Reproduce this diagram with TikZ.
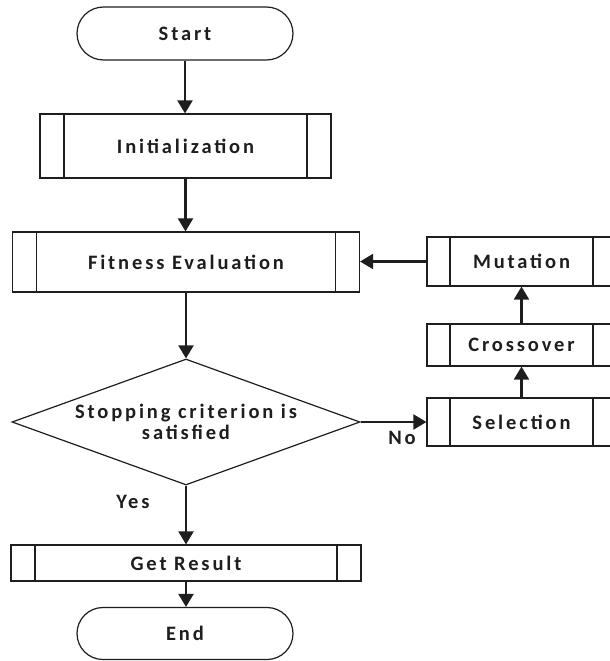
\documentclass[tikz,border=0pt]{standalone}
\usepackage{fontspec}
\setmainfont{Carlito}[LetterSpace=14]
\usetikzlibrary{shapes.geometric,shapes.misc,arrows.meta}
\definecolor{ink}{RGB}{30,30,30}
\begin{document}
\begin{tikzpicture}[x=1pt,y=-1pt,
  every node/.style={font=\fontsize{20.5}{21}\selectfont\bfseries, text=ink},
  term/.style={draw=ink, line width=1.2pt, rounded rectangle, minimum width=216pt, minimum height=53pt, inner sep=0pt},
  proc/.style={draw=ink, line width=1.2pt, rectangle, inner sep=0pt,
    path picture={\draw[ink, line width=1.5pt]
      ([xshift=#1]path picture bounding box.north west) -- ([xshift=#1]path picture bounding box.south west)
      ([xshift=-#1]path picture bounding box.north east) -- ([xshift=-#1]path picture bounding box.south east);}},
  dec/.style={draw=ink, line width=1.2pt, diamond, shape aspect=2.76, minimum width=348pt, minimum height=126pt, inner sep=0pt, align=center},
  arr/.style={draw=ink, line width=2.2pt, -{Triangle[width=15pt,length=13pt]}},
  lbl/.style={inner sep=0pt}
]
\useasboundingbox[fill=white] (0,0) rectangle (610,661);

\node[term] (start) at (185,33.5) {Start};
\node[proc=24pt, minimum width=291pt, minimum height=64pt] (init) at (185.5,146) {Initialization};
\node[proc=24pt, minimum width=347pt, minimum height=60pt] (fit) at (186,262) {Fitness Evaluation};
\node[dec] (stop) at (186,422) {Stopping criterion is\\satisfied};
\node[proc=23pt, minimum width=189pt, minimum height=48pt] (sel) at (521.5,422) {Selection};
\node[proc=23pt, minimum width=189pt, minimum height=42pt] (cro) at (521.5,345) {Crossover};
\node[proc=23pt, minimum width=189pt, minimum height=49pt] (mut) at (521.5,261.5) {Mutation};
\node[proc=24pt, minimum width=350pt, minimum height=36pt] (res) at (186,563) {Get Result};
\node[term, minimum height=52pt] (end) at (185,633.5) {End};

\node[lbl] (no) at (402,438) {No};
\node[lbl] (yes) at (133,502) {Yes};

\draw[arr] (start.south) -- (start.south |- init.north);
\draw[arr] (init.south) -- (init.south |- fit.north);
\draw[arr] (fit.south) -- (fit.south |- stop.north);
\draw[arr] (stop.east) -- (sel.west);
\draw[arr] (sel.north) -- (cro.south);
\draw[arr] (cro.north) -- (mut.south);
\draw[arr] (mut.west) -- (mut.west -| fit.east);
\draw[arr] (stop.south) -- (stop.south |- res.north);
\draw[arr] (res.south) -- (res.south |- end.north);
\end{tikzpicture}
\end{document}
